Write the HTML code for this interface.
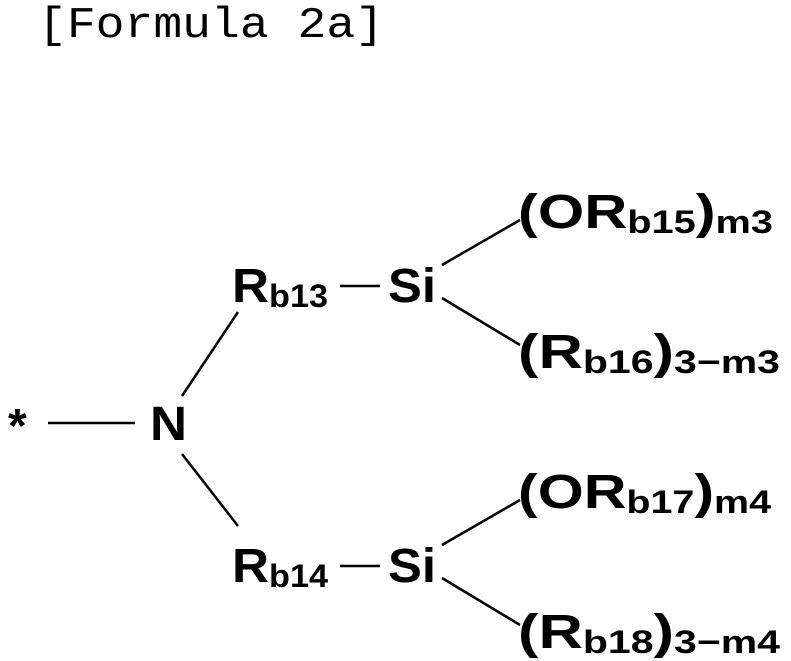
<!DOCTYPE html>
<html><head><meta charset="utf-8"><style>
html,body{margin:0;padding:0;background:#fff;}
svg{display:block;}
.m{font-family:"Liberation Sans",sans-serif;font-size:48px;font-weight:bold;fill:#000;}
.s{font-family:"Liberation Sans",sans-serif;font-size:32px;font-weight:bold;fill:#000;}
</style></head><body>
<svg width="791" height="661" viewBox="0 0 791 661">
<text x="38" y="37" font-family="Liberation Mono, monospace" font-size="44" textLength="346" lengthAdjust="spacingAndGlyphs">[Formula 2a]</text>
<g stroke="#000" stroke-width="2.5" fill="none">
<line x1="48" y1="423" x2="135" y2="423"/>
<line x1="182" y1="396" x2="238" y2="312"/>
<line x1="182" y1="454" x2="238" y2="526"/>
<line x1="340" y1="286" x2="380" y2="286"/>
<line x1="340" y1="566" x2="380" y2="566"/>
<line x1="442" y1="265" x2="520" y2="220"/>
<line x1="442" y1="298" x2="520" y2="345"/>
<line x1="442" y1="545" x2="520" y2="500"/>
<line x1="442" y1="578" x2="520" y2="625"/>
</g>
<text class="m" x="8" y="442">*</text>
<text class="m" x="150" y="440" textLength="37" lengthAdjust="spacingAndGlyphs">N</text>
<text x="232" y="302" textLength="96" lengthAdjust="spacingAndGlyphs"><tspan class="m">R</tspan><tspan class="s" dy="5">b13</tspan></text>
<text class="m" x="388" y="302" textLength="48" lengthAdjust="spacingAndGlyphs">Si</text>
<text x="232" y="582" textLength="96" lengthAdjust="spacingAndGlyphs"><tspan class="m">R</tspan><tspan class="s" dy="5">b14</tspan></text>
<text class="m" x="388" y="582" textLength="48" lengthAdjust="spacingAndGlyphs">Si</text>
<text x="518" y="228" textLength="255" lengthAdjust="spacingAndGlyphs"><tspan class="m">(OR</tspan><tspan class="s" dy="5">b15</tspan><tspan class="m" dy="-5">)</tspan><tspan class="s" dy="5">m3</tspan></text>
<text x="518" y="368" textLength="262" lengthAdjust="spacingAndGlyphs"><tspan class="m">(R</tspan><tspan class="s" dy="5">b16</tspan><tspan class="m" dy="-5">)</tspan><tspan class="s" dy="5">3−m3</tspan></text>
<text x="518" y="508" textLength="253" lengthAdjust="spacingAndGlyphs"><tspan class="m">(OR</tspan><tspan class="s" dy="5">b17</tspan><tspan class="m" dy="-5">)</tspan><tspan class="s" dy="5">m4</tspan></text>
<text x="518" y="648" textLength="262" lengthAdjust="spacingAndGlyphs"><tspan class="m">(R</tspan><tspan class="s" dy="5">b18</tspan><tspan class="m" dy="-5">)</tspan><tspan class="s" dy="5">3−m4</tspan></text>
</svg>
</body></html>
